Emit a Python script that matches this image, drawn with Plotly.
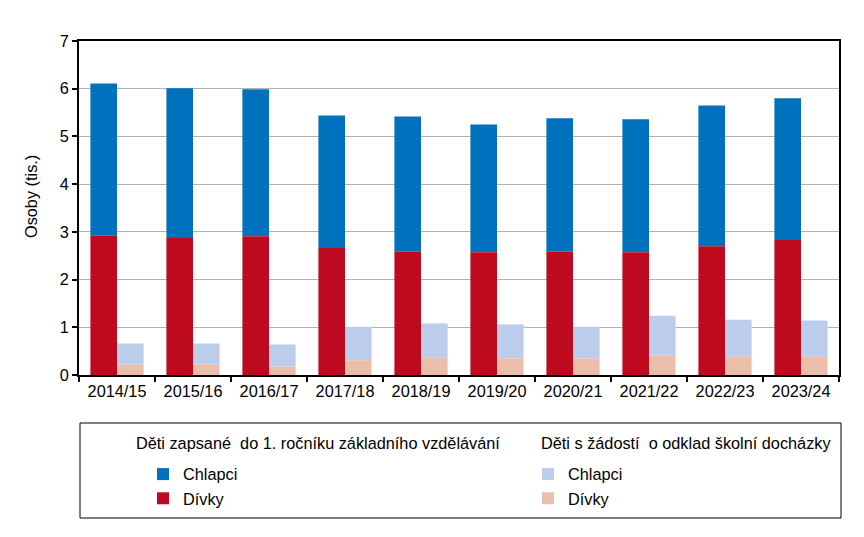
import plotly.graph_objects as go

years = ["2014/15", "2015/16", "2016/17", "2017/18", "2018/19",
         "2019/20", "2020/21", "2021/22", "2022/23", "2023/24"]

# Děti zapsané do 1. ročníku (tis.)
zaps_divky = [2.92, 2.87, 2.91, 2.66, 2.59, 2.57, 2.59, 2.57, 2.70, 2.83]
zaps_chlapci = [3.19, 3.14, 3.08, 2.78, 2.83, 2.68, 2.79, 2.79, 2.95, 2.97]

# Děti s žádostí o odklad (tis.)
odkl_divky = [0.22, 0.22, 0.18, 0.31, 0.36, 0.35, 0.35, 0.41, 0.39, 0.39]
odkl_chlapci = [0.44, 0.44, 0.46, 0.70, 0.72, 0.71, 0.66, 0.83, 0.77, 0.75]

title_zaps = "Děti zapsané  do 1. ročníku základního vzdělávání"
title_odkl = "Děti s žádostí  o odklad školní docházky"

C_BLUE = "#0071BD"
C_RED = "#BD0A1F"
C_LBLUE = "#BBCDEB"
C_SALMON = "#EBBEAC"

FONT = "Liberation Sans, Arial, sans-serif"
FS = 16.3
W = 0.35

fig = go.Figure()

fig.add_trace(go.Bar(x=years, y=zaps_chlapci, base=zaps_divky, name="Chlapci",
                     marker=dict(color=C_BLUE, line=dict(width=0)),
                     width=W, offset=-W, legend="legend", legendgroup="a1"))
fig.add_trace(go.Bar(x=years, y=zaps_divky, base=[0] * len(years), name="Dívky",
                     marker=dict(color=C_RED, line=dict(width=0)),
                     width=W, offset=-W, legend="legend", legendgroup="a2"))
fig.add_trace(go.Bar(x=years, y=odkl_chlapci, base=odkl_divky, name="Chlapci",
                     marker=dict(color=C_LBLUE, line=dict(width=0)),
                     width=W, offset=0, legend="legend2", legendgroup="b1"))
fig.add_trace(go.Bar(x=years, y=odkl_divky, base=[0] * len(years), name="Dívky",
                     marker=dict(color=C_SALMON, line=dict(width=0)),
                     width=W, offset=0, legend="legend2", legendgroup="b2"))

# page body has an 8px margin; work in on-screen pixel coordinates
OFF = 8
SL, ST, SR, SB = 79, 41, 839, 375  # plot area on screen
PL = SL - OFF
PT = ST - OFF
pw = SR - SL
ph = SB - ST
PR = 864 - PL - pw
PB = 537 - PT - ph


def px_x(p):
    return (p - SL) / pw


def px_y(p):
    return (SB - p) / ph


legend_common = dict(
    orientation="v", xanchor="left", yanchor="top",
    font=dict(family=FONT, size=FS, color="#000000"),
    bgcolor="rgba(0,0,0,0)", borderwidth=0,
    tracegroupgap=11, traceorder="normal",
)

fig.update_layout(
    width=864, height=537,
    margin=dict(l=PL, r=PR, t=PT, b=PB, autoexpand=False),
    paper_bgcolor="white", plot_bgcolor="white",
    barmode="overlay",
    font=dict(family=FONT, size=FS, color="#000000"),
    showlegend=True,
    legend=dict(x=px_x(143), y=px_y(457), **legend_common),
    legend2=dict(x=px_x(528), y=px_y(457), **legend_common),
    xaxis=dict(
        type="category", tickson="boundaries", ticks="outside", ticklen=5,
        tickwidth=2, tickcolor="black",
        showline=True, linecolor="black", linewidth=2, mirror=True,
        showgrid=False, tickfont=dict(family=FONT, size=FS, color="#000000"),
    ),
    yaxis=dict(
        range=[0, 7], dtick=1, ticks="outside", ticklen=5, tickwidth=2,
        tickcolor="black", showline=True, linecolor="black", linewidth=2,
        mirror=True, showgrid=True, gridcolor="#B3B3B3", gridwidth=1,
        zeroline=False, tickfont=dict(family=FONT, size=FS, color="#000000"),
    ),
    annotations=[
        dict(text="Osoby (tis.)", textangle=-90, xref="paper", yref="paper",
             x=px_x(31), y=px_y(197), showarrow=False, xanchor="center",
             yanchor="middle", font=dict(family=FONT, size=FS, color="#000000")),
        dict(text=title_zaps, xref="paper", yref="paper",
             x=px_x(134), y=px_y(443), showarrow=False, xanchor="left",
             yanchor="middle", font=dict(family=FONT, size=FS, color="#000000")),
        dict(text=title_odkl, xref="paper", yref="paper",
             x=px_x(539), y=px_y(443), showarrow=False, xanchor="left",
             yanchor="middle", font=dict(family=FONT, size=FS, color="#000000")),
    ],
    shapes=[dict(
        type="rect", xref="paper", yref="paper",
        x0=px_x(80), x1=px_x(841), y0=px_y(423), y1=px_y(518),
        line=dict(color="black", width=1), fillcolor="rgba(0,0,0,0)",
    )],
)

fig.write_html("out.html")
